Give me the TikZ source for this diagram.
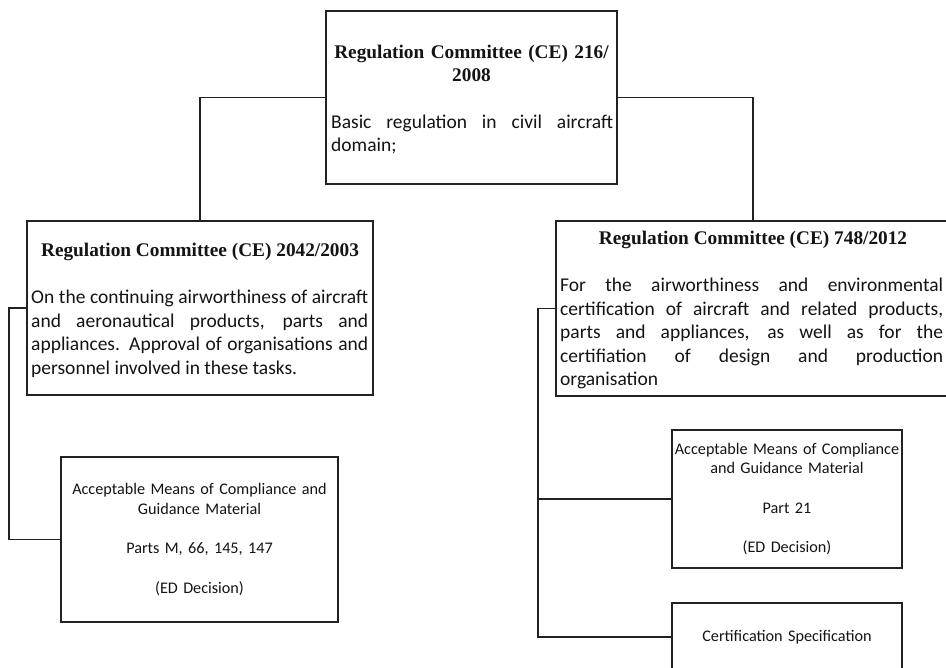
\documentclass[tikz,border=0pt]{standalone}
\usepackage{fontspec}
\newfontfamily\bodyfont{Carlito}
\newfontfamily\headfont{Liberation Serif}
\hyphenpenalty=10000
\exhyphenpenalty=10000
\tolerance=10000
\hbadness=10000
\definecolor{ink}{HTML}{141414}
\definecolor{rule}{HTML}{222222}
\begin{document}
\begin{tikzpicture}[x=1pt,y=-1pt,
  box/.style={draw=rule,line width=1.8pt,rectangle,inner sep=0pt,fill=white},
  heading/.style={font=\headfont\bfseries\fontsize{19.3}{23}\selectfont,text=ink,
    inner sep=0pt,align=center,anchor=base},
  body/.style={font=\bodyfont\fontsize{19.5}{23.5}\selectfont,text=ink,
    inner sep=0pt,align=justify,anchor=base west},
  small/.style={font=\bodyfont\fontsize{16.2}{19.7}\selectfont,text=ink,align=center},
  link/.style={draw=rule,line width=1.8pt}]
\useasboundingbox[fill=white] (0,0) rectangle (946,668);

% Basic regulation
\node[box,minimum width=291pt,minimum height=173pt] (top) at (471.5,97.5) {};
\node[heading,text width=291pt] (ttop) at (471.5,58.5) {Regulation Committee (CE) 216/\\2008};
\node[body,text width=282pt] (btop) at (331,128.5) {Basic regulation in civil aircraft domain;};

% Continuing airworthiness
\node[box,minimum width=346pt,minimum height=174pt] (left) at (200,308) {};
\node[heading] (tleft) at (200,257) {Regulation Committee (CE) 2042/2003};
\node[body,text width=337pt] (bleft) at (31,304) {On the continuing airworthiness of aircraft\linebreak
and aeronautical products, parts and\linebreak
appliances. Approval of organisations and\linebreak
personnel involved in these tasks.};

% Initial airworthiness
\node[box,minimum width=394pt,minimum height=175pt] (right) at (753,308.5) {};
\node[heading] (tright) at (753,245) {Regulation Committee (CE) 748/2012};
\node[body,text width=383pt] (bright) at (560,291.7) {For the airworthiness and environmental\linebreak
certification of aircraft and related products,\linebreak
parts and appliances, as well as for the\linebreak
certifiation of design and production\linebreak
organisation};

% Lower-level material
\node[box,small,text width=270pt,minimum width=277pt,minimum height=165pt] (amcL) at (199.5,539.5)
  {Acceptable Means of Compliance and\\Guidance Material\\[19.7pt]Parts M, 66, 145, 147\\[19.7pt](ED Decision)};
\node[box,small,text width=226pt,minimum width=230pt,minimum height=138pt] (amcR) at (787,499)
  {Acceptable Means of Compliance\\and Guidance Material\\[19.7pt]Part 21\\[19.7pt](ED Decision)};
\node[box,small,text width=226pt,minimum width=230pt,minimum height=68pt] (cs) at (787,637)
  {Certification Specification};

% Connectors
\draw[link] (top.west) -| (left.north);
\draw[link] (top.east) -| (right.north);
\draw[link] (left.west) -- ++(-17,0) |- (amcL.west);
\draw[link] (right.west) -- ++(-17,0) coordinate (rbus) |- (cs.west);
\draw[link] (rbus |- amcR.west) -- (amcR.west);
\end{tikzpicture}
\end{document}
